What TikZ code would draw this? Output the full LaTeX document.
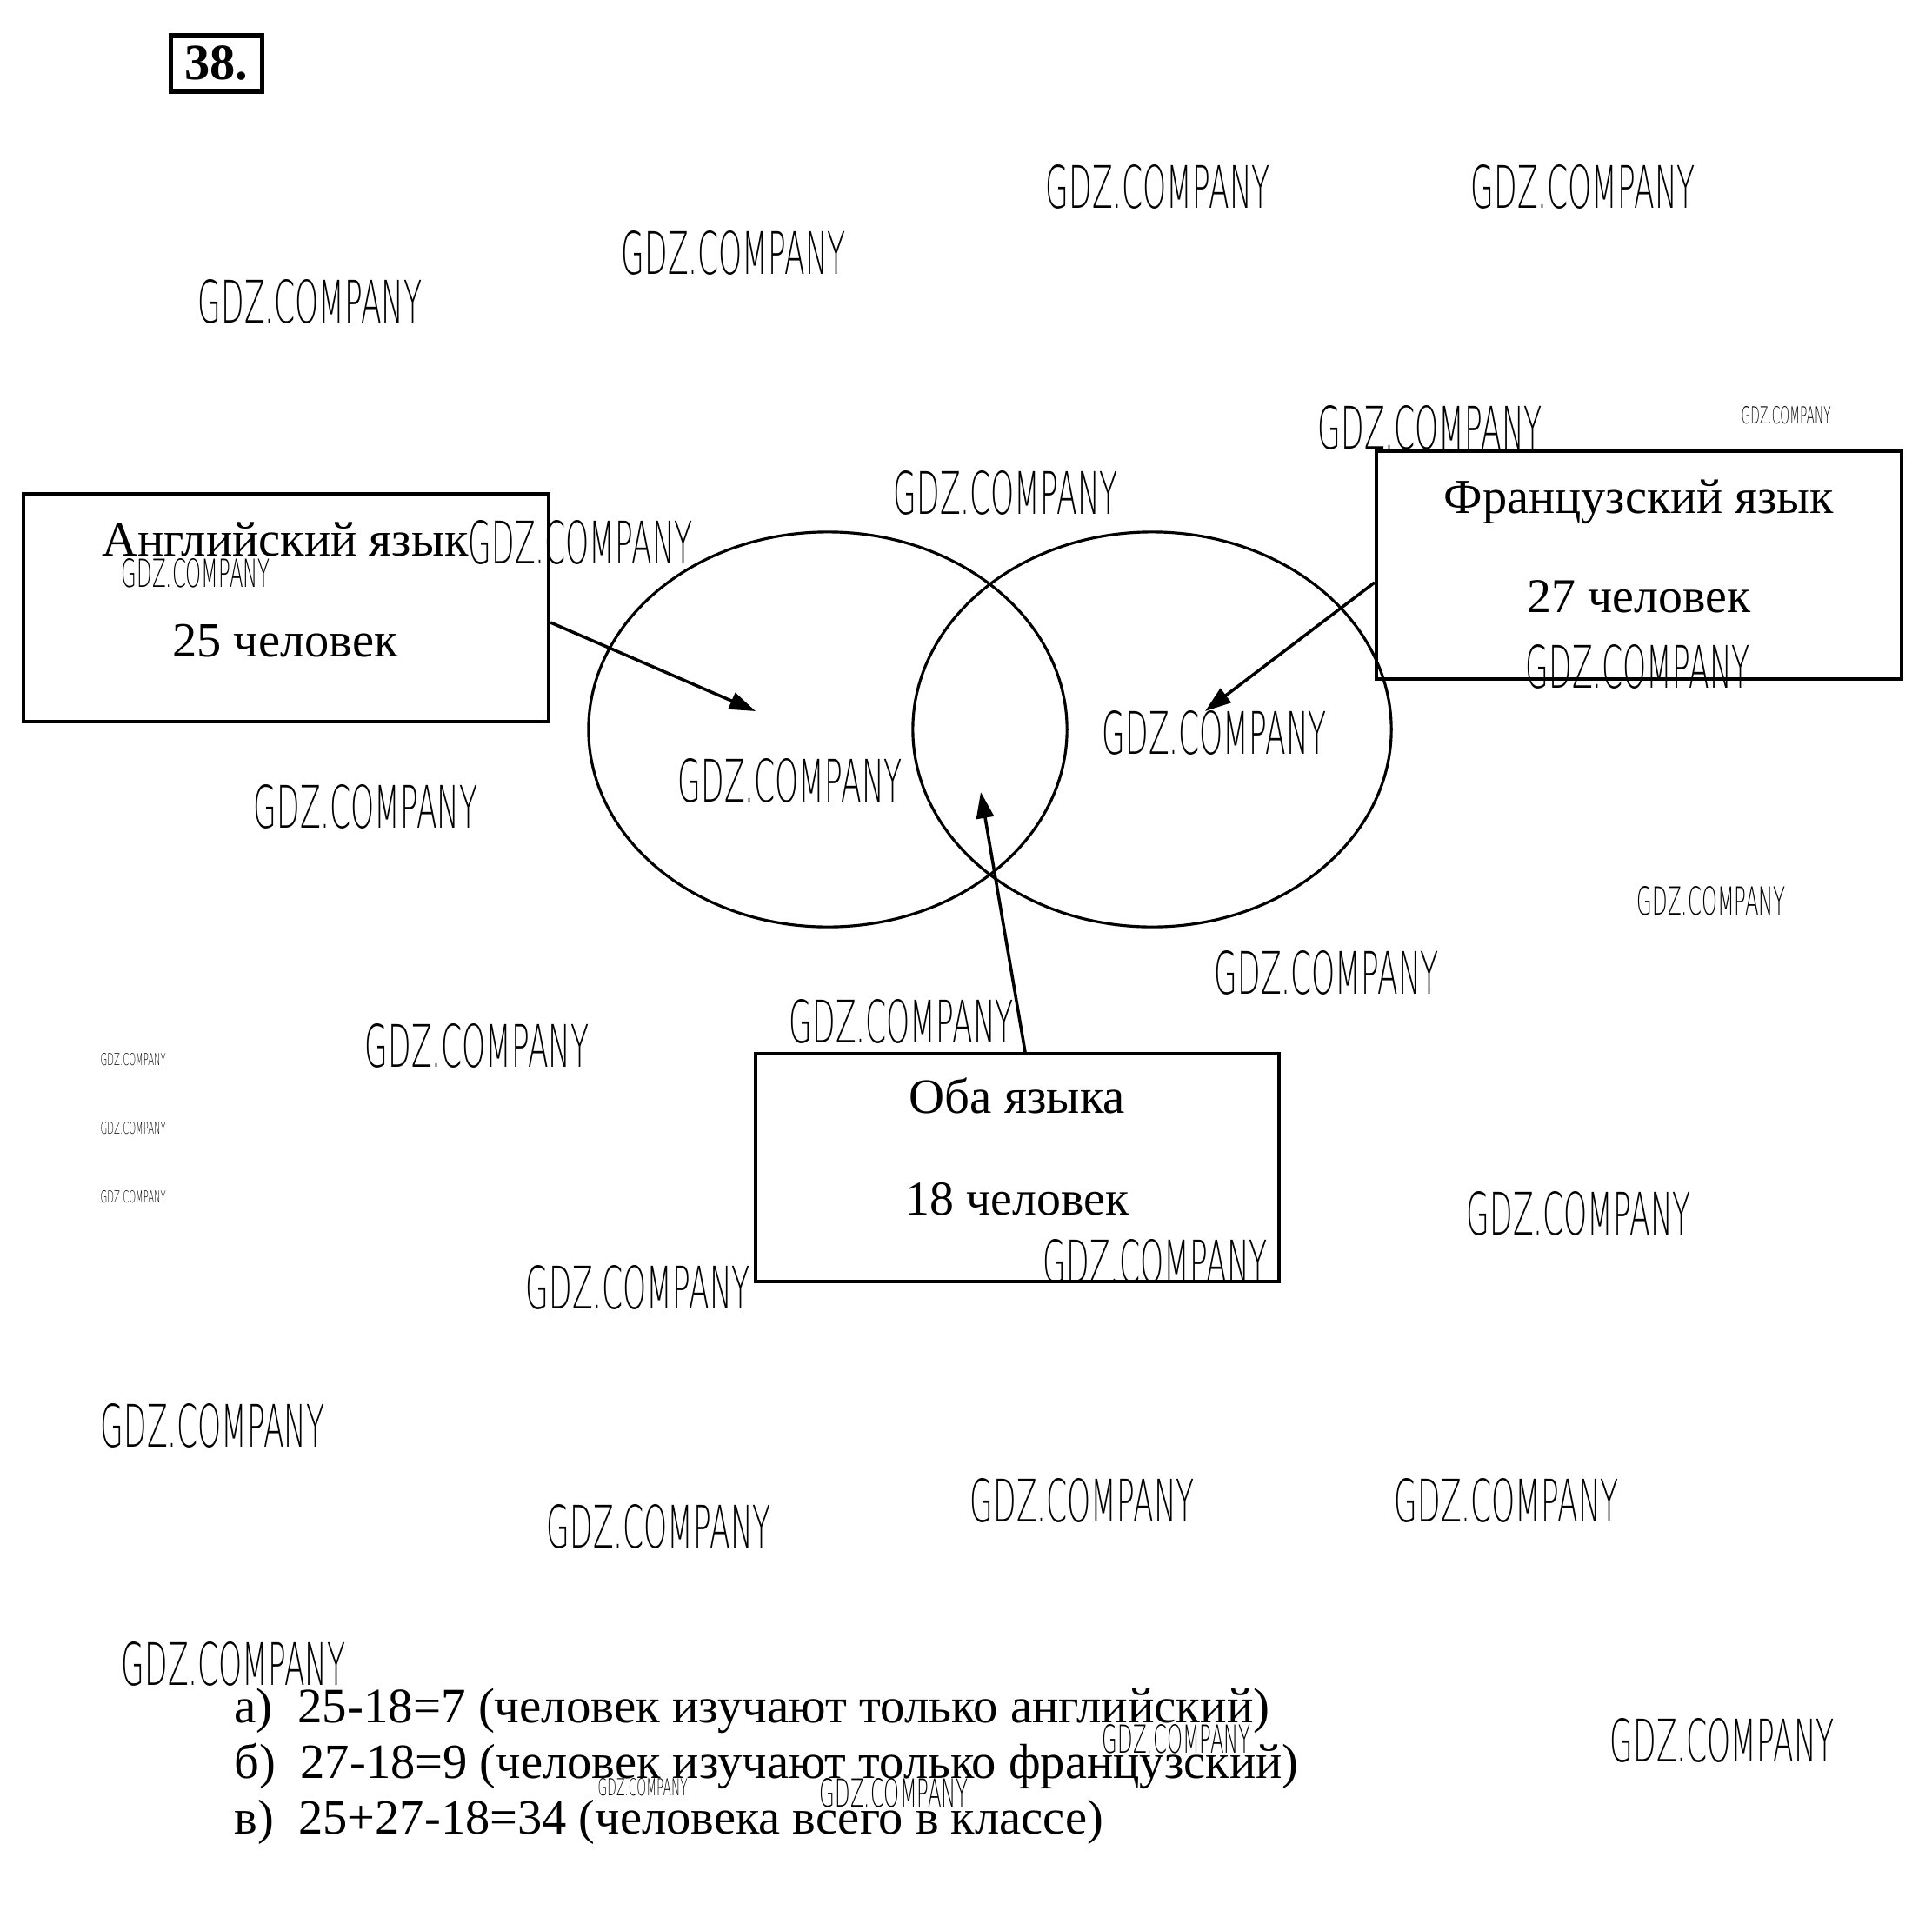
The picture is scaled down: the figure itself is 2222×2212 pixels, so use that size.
\documentclass[tikz,border=0pt]{standalone}
\usepackage{fontspec}
\setmainfont{Liberation Serif}
\setsansfont{Liberation Sans}
\newfontfamily\wmfont{DejaVuSans-ExtraLight.ttf}
\usepackage{graphicx}
\usetikzlibrary{shapes.geometric,arrows.meta,calc}
\newcommand{\gdz}[2]{\resizebox{#1}{#2}{\wmfont GDZ.COMPANY}}
\begin{document}
\begin{tikzpicture}[x=0.01cm,y=-0.01cm,
  box/.style={draw,line width=1.1pt,rectangle,minimum width=6.04cm,minimum height=2.62cm,inner sep=0},
  oval/.style={draw,line width=0.9pt,ellipse,minimum width=5.5cm,minimum height=4.54cm,inner sep=0},
  lbl/.style={anchor=base,inner sep=0},
  arr/.style={line width=1pt,-{Triangle[length=0.3cm,width=0.2cm]}},
  wm/.style={anchor=west,inner sep=0},
  big/.style={wm,node contents={\gdz{2.58cm}{0.50cm}}},
  med/.style={wm,node contents={\gdz{1.71cm}{0.33cm}}},
  sml/.style={wm,node contents={\gdz{1.03cm}{0.20cm}}},
  tny/.style={wm,node contents={\gdz{0.75cm}{0.14cm}}},
  ans/.style={anchor=base west,inner sep=0}]
\path[use as bounding box,fill=white] (0,0) rectangle (2222,2212);

% number
\node[draw,line width=1.5pt,minimum width=1.05cm,minimum height=0.64cm,inner sep=0] (num) at (249,73) {};
\node[lbl] (numt) at (249,92) {\resizebox{0.73cm}{!}{\bfseries 38.}};

% ellipses
\node[oval] (L) at (952,839) {};
\node[oval] (R) at (1325,839) {};

% boxes
\node[box] (eng) at (329,699) {};
\node[lbl] (engt1) at (328,639) {\resizebox{4.21cm}{!}{Английский язык}};
\node[lbl] (engt2) at (328,755) {\resizebox{2.59cm}{!}{25 человек}};

\node[box] (fr) at (1885,650) {};
\node[lbl] (frt1) at (1885,590) {\resizebox{4.48cm}{!}{Французский язык}};
\node[lbl] (frt2) at (1885,704) {\resizebox{2.56cm}{!}{27 человек}};

\node[box,minimum width=6.02cm] (both) at (1170,1343) {};
\node[lbl] (btt1) at (1170,1280) {\resizebox{2.48cm}{!}{Оба языка}};
\node[lbl] (btt2) at (1170,1397) {\resizebox{2.56cm}{!}{18 человек}};

% arrows
\coordinate (t1) at (869,818);
\coordinate (t2) at (1386,818);
\coordinate (t3) at (1128,911);
\draw[arr] ($(eng.east)+(0,17)$) -- (t1);
\draw[arr] ($(fr.west)+(0,20)$) -- (t2);
\draw[arr] ($(both.north)+(9,0)$) -- (t3);

% answers
\node[ans] (a1) at (269,1981) {\resizebox{11.90cm}{!}{а)\enspace 25-18=7 (человек изучают только английский)}};
\node[ans] (a2) at (269,2045) {\resizebox{12.23cm}{!}{б)\enspace 27-18=9 (человек изучают только французский)}};
\node[ans] (a3) at (269,2109) {\resizebox{9.99cm}{!}{в)\enspace 25+27-18=34 (человека всего в классе)}};

% watermarks
\node (w1) at (1202,215) [big];
\node (w2) at (1691,215) [big];
\node (w3) at (714,291) [big];
\node (w4) at (227,347) [big];
\node (w5) at (1515,492) [big];
\node (w6) at (2002,478) [sml];
\node (w7) at (1027,567) [big];
\node (w8) at (538,624) [big];
\node (w9) at (139,659) [med];
\node (w10) at (1754,767) [big];
\node (w11) at (1267,843) [big];
\node (w12) at (779,898) [big];
\node (w13) at (291,928) [big];
\node (w14) at (1882,1036) [med];
\node (w15) at (1396,1119) [big];
\node (w16) at (907,1175) [big];
\node (w17) at (419,1203) [big];
\node (w18) at (115,1219) [tny];
\node (w19) at (115,1298) [tny];
\node (w20) at (115,1377) [tny];
\node (w21) at (1686,1396) [big];
\node (w22) at (1199,1451) [big];
\node (w23) at (604,1481) [big];
\node (w24) at (115,1640) [big];
\node (w25) at (1115,1726) [big];
\node (w26) at (1603,1726) [big];
\node (w27) at (628,1756) [big];
\node (w28) at (139,1914) [big];
\node (w29) at (1851,2002) [big];
\node (w30) at (1267,2000) [med];
\node (w31) at (687,2056) [sml];
\node (w32) at (942,2062) [med];
\end{tikzpicture}
\end{document}
